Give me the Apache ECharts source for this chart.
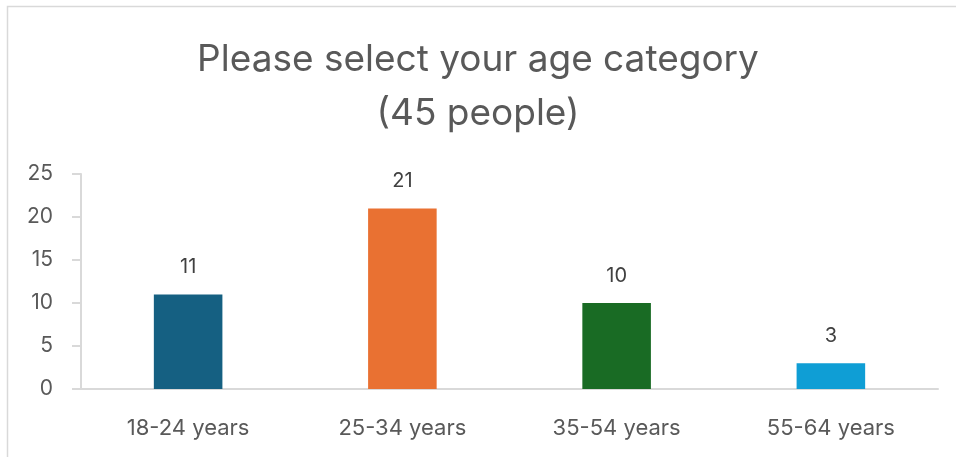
<!DOCTYPE html>
<html><head><meta charset="utf-8">
<script src="https://cdn.jsdelivr.net/npm/echarts@6/dist/echarts.min.js"></script>
<style>html,body{margin:0;padding:0;background:#fff}#c{width:956px;height:457px}</style>
</head><body><div id="c"></div>
<script>
const categories = ['18-24 years','25-34 years','35-54 years','55-64 years'];
const values = [11, 21, 10, 3];
const colors = ['#156082','#E97132','#196B24','#0F9ED5'];
const titleText = 'Please select your age category\n(45 people)';
const FONT = 'Inter, "Noto Sans", sans-serif';
const chart = echarts.init(document.getElementById('c'), null, {renderer:'canvas'});
chart.setOption({
  animation:false,
  backgroundColor:'#fff',
  graphic:[{type:'polyline',shape:{points:[[7.5,457],[7.5,6.5],[956,6.5]]},style:{stroke:'#d9d9d9',lineWidth:1.5,fill:null}}],
  title:{text:titleText,left:'center',top:28,textStyle:{fontFamily:FONT,fontWeight:'normal',fontSize:37,color:'#595959',lineHeight:54}},
  grid:{left:81,right:18,top:174,bottom:68,containLabel:false},
  xAxis:{type:'category',data:categories,
    axisLine:{show:true,lineStyle:{color:'#d9d9d9',width:2}},
    axisTick:{show:false},
    axisLabel:{fontFamily:FONT,fontSize:22,color:'#595959',margin:28}},
  yAxis:{type:'value',min:0,max:25,interval:5,
    splitLine:{show:false},
    axisLine:{show:true,lineStyle:{color:'#d9d9d9',width:2}},
    axisTick:{show:true,length:9,lineStyle:{color:'#d9d9d9',width:2}},
    axisLabel:{fontFamily:FONT,fontSize:21,color:'#595959',margin:28}},
  series:[{type:'bar',barWidth:'32%',
    data:values.map((v,i)=>({value:v,itemStyle:{color:colors[i]}})),
    label:{show:true,position:'top',distance:17,fontFamily:FONT,fontSize:20,color:'#404040'}}]
});
</script></body></html>
